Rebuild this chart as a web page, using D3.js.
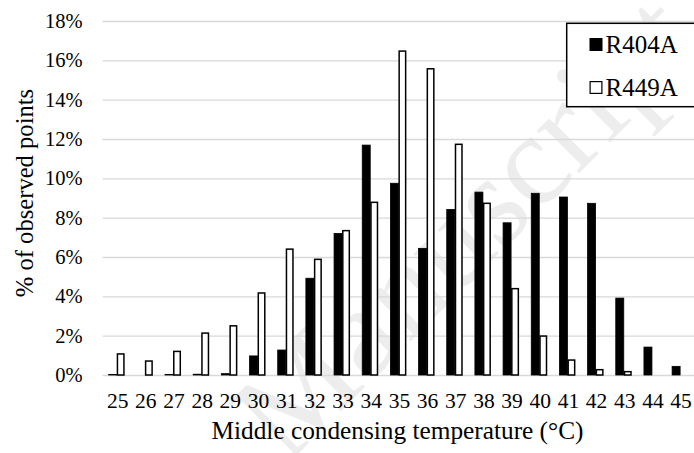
<!DOCTYPE html>
<html>
<head>
<meta charset="utf-8">
<script src="https://cdn.jsdelivr.net/npm/d3@7"></script>
<style>
  body { margin: 0; background: #fff; }
  svg { display: block; }
  svg text { font-family: "Liberation Serif", "Times New Roman", serif; }
</style>
</head>
<body>
<div id="chart"></div>
<script>
// condensing temperature bins (°C)
var categories = [25, 26, 27, 28, 29, 30, 31, 32, 33, 34, 35, 36, 37, 38, 39, 40, 41, 42, 43, 44, 45];
// % of observed points per bin
var r404a = [0.03, 0, 0.03, 0.04, 0.07, 0.97, 1.27, 4.92, 7.2, 11.69, 9.75, 6.44, 8.42, 9.3, 7.74, 9.24, 9.05, 8.73, 3.91, 1.42, 0.44];
var r449a = [1.07, 0.71, 1.2, 2.13, 2.5, 4.17, 6.4, 5.88, 7.34, 8.78, 16.47, 15.57, 11.73, 8.73, 4.39, 1.98, 0.76, 0.27, 0.17, 0, 0];
var yTicks = [0, 2, 4, 6, 8, 10, 12, 14, 16, 18];
var seriesNames = ["R404A", "R449A"];

var width = 694, height = 453;
var plotLeft = 102.6, plotRight = 694.2, plotTop = 21, plotBottom = 375;

var svg = d3.select("#chart").append("svg")
	.attr("width", width)
	.attr("height", height);

// faint watermark behind everything
svg.append("text")
	.attr("transform", "translate(286,466) rotate(-45)")
	.style("font-size", "130px")
	.attr("fill", "#ededed")
	.text("Manuscript");

var x = d3.scaleBand()
	.domain(categories)
	.range([plotLeft, plotRight])
	.padding(0);

var y = d3.scaleLinear()
	.domain([0, 18])
	.range([plotBottom, plotTop]);

// y axis with gridlines
var yAxis = svg.append("g")
	.attr("transform", "translate(" + plotLeft + ",0)")
	.call(d3.axisLeft(y)
		.tickValues(yTicks)
		.tickSize(-(width - plotLeft + 10))
		.tickPadding(20)
		.tickFormat(function(d) { return d + "%"; }));

yAxis.select(".domain").remove();
yAxis.selectAll("line")
	.attr("stroke", "#d9d9d9")
	.attr("stroke-width", 1.4);
yAxis.selectAll("text")
	.style("font-size", "20.5px")
	.attr("fill", "#000");

// x axis labels
var xAxis = svg.append("g")
	.attr("transform", "translate(0," + plotBottom + ")")
	.call(d3.axisBottom(x)
		.tickSize(0)
		.tickPadding(17.5));

xAxis.select(".domain").remove();
xAxis.selectAll("text")
	.style("font-size", "21.5px")
	.attr("fill", "#000")
	.attr("x", 1);

var bw = 8;
function center(c) { return x(c) + x.bandwidth() / 2; }

svg.append("g").selectAll("rect")
	.data(categories.map(function(c, i) { return {c: c, v: r404a[i]}; }).filter(function(d) { return d.v > 0; }))
	.join("rect")
	.attr("x", function(d) { return center(d.c) - bw; })
	.attr("y", function(d) { return y(d.v); })
	.attr("width", bw)
	.attr("height", function(d) { return plotBottom - y(d.v); })
	.attr("fill", "#000")
	.attr("stroke", "#000")
	.attr("stroke-width", 0.8);

svg.append("g").selectAll("rect")
	.data(categories.map(function(c, i) { return {c: c, v: r449a[i]}; }).filter(function(d) { return d.v > 0; }))
	.join("rect")
	.attr("x", function(d) { return center(d.c) + 0.75; })
	.attr("y", function(d) { return y(d.v); })
	.attr("width", bw - 1.5)
	.attr("height", function(d) { return plotBottom - y(d.v); })
	.attr("fill", "#fff")
	.attr("stroke", "#000")
	.attr("stroke-width", 1.5);

// axis titles
svg.append("text")
	.attr("transform", "translate(33,193) rotate(-90)")
	.attr("text-anchor", "middle")
	.style("font-size", "24.6px")
	.text("% of observed points");

svg.append("text")
	.attr("x", 397.5)
	.attr("y", 439)
	.attr("text-anchor", "middle")
	.style("font-size", "25.3px")
	.text("Middle condensing temperature (°C)");

// legend
var legend = svg.append("g");
legend.append("rect")
	.attr("x", 566.7)
	.attr("y", 23.3)
	.attr("width", 150)
	.attr("height", 83.4)
	.attr("fill", "#fff")
	.attr("stroke", "#000")
	.attr("stroke-width", 1.5);

var items = legend.selectAll("g.item")
	.data(seriesNames)
	.join("g")
	.attr("class", "item")
	.attr("transform", function(d, i) { return "translate(589.5," + (38 + i * 43) + ")"; });

items.append("rect")
	.attr("x", function(d, i) { return i ? 0.6 : 0; })
	.attr("y", function(d, i) { return i ? 0.6 : 0; })
	.attr("width", function(d, i) { return i ? 11.8 : 13; })
	.attr("height", function(d, i) { return i ? 11.8 : 13; })
	.attr("fill", function(d, i) { return i ? "#fff" : "#000"; })
	.attr("stroke", "#000")
	.attr("stroke-width", function(d, i) { return i ? 1.2 : 0; });

items.append("text")
	.attr("x", 16)
	.attr("y", 15.3)
	.style("font-size", "25px")
	.text(function(d) { return d; });
</script>
</body>
</html>
